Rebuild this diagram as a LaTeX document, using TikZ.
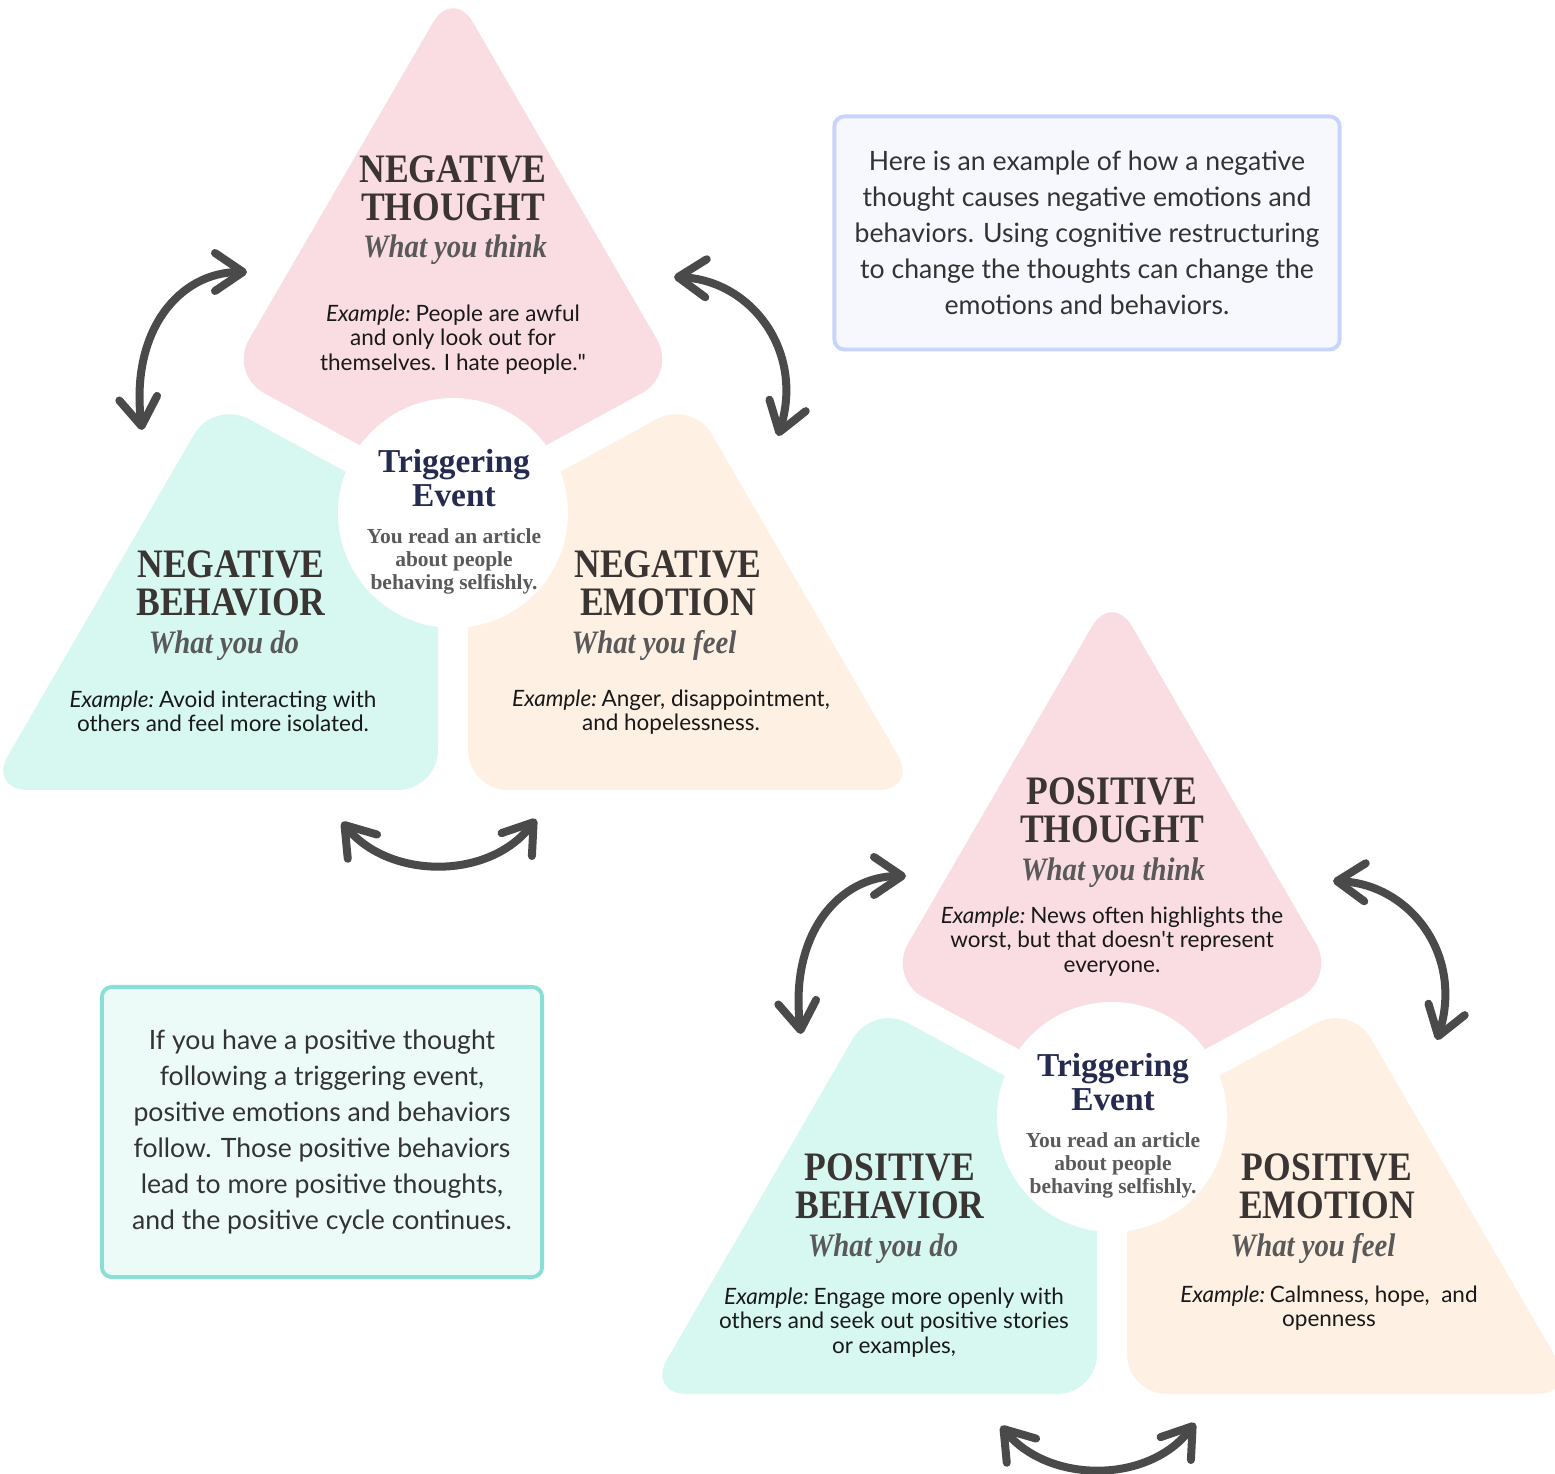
\documentclass[tikz,border=0pt]{standalone}
\usepackage{fontspec}
\setmainfont{Lato}
\newfontfamily\headfont[FakeStretch=0.88]{Liberation Serif}
\newfontfamily\trigfont{Liberation Serif}
\usetikzlibrary{arrows.meta}
\definecolor{pinkfill}{HTML}{FADDE3}
\definecolor{greenfill}{HTML}{D7F8F1}
\definecolor{peachfill}{HTML}{FEF0E3}
\definecolor{headgray}{HTML}{3A3533}
\definecolor{subgray}{HTML}{595959}
\definecolor{navy}{HTML}{252A4F}
\definecolor{descgray}{HTML}{5A5A5A}
\definecolor{arrowgray}{HTML}{4A4A4A}
\definecolor{notetext}{HTML}{333333}
\definecolor{bluefill}{HTML}{F6F8FE}
\definecolor{blueline}{HTML}{C9D4FB}
\definecolor{tealfill}{HTML}{ECFBF8}
\definecolor{tealline}{HTML}{89DED6}
\newcommand{\exlabel}{\textit{Example:}\kern-0.8pt}
\begin{document}
\begin{tikzpicture}[x=0.01cm,y=-0.01cm,
  titletext/.style={font=\headfont\bfseries\fontsize{11.5}{10.8}\selectfont,text=headgray,align=center,anchor=north,inner sep=0pt},
  subtext/.style={font=\headfont\bfseries\itshape\fontsize{9.3}{11}\selectfont,text=subgray,anchor=north,inner sep=0pt},
  extext/.style={font=\fontsize{6.4}{6.97}\selectfont,text=black!90,align=center,anchor=north,inner sep=0pt},
  trigtitle/.style={font=\trigfont\bfseries\fontsize{9.5}{9.7}\selectfont,text=navy,align=center,anchor=north,inner sep=0pt},
  trigtext/.style={font=\trigfont\bfseries\fontsize{6.1}{6.5}\selectfont,text=descgray,align=center,anchor=north,inner sep=0pt},
  notebox/.style={draw,line width=1.1pt,rounded corners=1mm,align=center,text=notetext,font=\fontsize{7.57}{10.24}\selectfont},
  cyclearrow/.style={draw=arrowgray,line width=0.8mm,line cap=round,>={Straight Barb[length=2.8mm,width=3.8mm,round]},<->}]
\useasboundingbox (0,0) rectangle (1555,1474);
% the two cycles: thought, behavior, emotion round the event
\foreach \d/\dx/\dy in {n/0/0,p/659/604}{
\begin{scope}[shift={(\dx,\dy)}]
\fill[pinkfill,rounded corners=4mm] (453,-12) -- (677,374) -- (453,496) -- (229,374) -- cycle;
\fill[greenfill,rounded corners=4mm] (214,400) -- (-12,790) -- (438,790) -- (438,522) -- cycle;
\fill[peachfill,rounded corners=4mm] (692,400) -- (918,790) -- (468,790) -- (468,522) -- cycle;
\fill[white] (453,513) circle[radius=115];
\coordinate (\d-lt) at (247,272);
\coordinate (\d-lb) at (142,430);
\coordinate (\d-rt) at (674,277);
\coordinate (\d-rb) at (778,436);
\coordinate (\d-bl) at (342,822);
\coordinate (\d-br) at (536,819);
\draw[cyclearrow] (\d-lb) .. controls (130,330) and (180,272) .. (\d-lt);
\draw[cyclearrow] (\d-rt) .. controls (750,280) and (805,350) .. (\d-rb);
\draw[cyclearrow] (\d-bl) .. controls (390,880) and (490,880) .. (\d-br);
\end{scope}
}
% negative cycle
\node[titletext] (nthought) at (453,155) {NEGATIVE\\THOUGHT};
\node[subtext] (nthink) at (455,234) {What you think};
\node[extext] (nthoughtex) at (453,304) {\exlabel{} People are awful\\and only look out for\\themselves. I hate people.\textquotedbl};
\node[titletext] (nbehavior) at (231,550) {NEGATIVE\\BEHAVIOR};
\node[subtext] (ndo) at (224,630) {What you do};
\node[extext] (nbehaviorex) at (223,690) {\exlabel{} Avoid interacting with\\others and feel more isolated.};
\node[titletext] (nemotion) at (668,550) {NEGATIVE\\EMOTION};
\node[subtext] (nfeel) at (654,630) {What you feel};
\node[extext] (nemotionex) at (671,689) {\exlabel{} Anger, disappointment,\\and hopelessness.};
\node[trigtitle] (nevent) at (454,449) {Triggering\\Event};
\node[trigtext] (neventtxt) at (454,528) {You read an article\\about people\\behaving selfishly.};
% positive cycle
\node[titletext] (pthought) at (1112,777) {POSITIVE\\THOUGHT};
\node[subtext] (pthink) at (1113,857) {What you think};
\node[extext] (pthoughtex) at (1112,906) {\exlabel{} News often highlights the\\worst, but that doesn\textquotesingle t represent\\everyone.};
\node[titletext] (pbehavior) at (890,1153) {POSITIVE\\BEHAVIOR};
\node[subtext] (pdo) at (883,1233) {What you do};
\node[extext] (pbehaviorex) at (894,1287) {\exlabel{} Engage more openly with\\others and seek out positive stories\\or examples,};
\node[titletext] (pemotion) at (1327,1153) {POSITIVE\\EMOTION};
\node[subtext] (pfeel) at (1313,1233) {What you feel};
\node[extext] (pemotionex) at (1329,1285) {\exlabel{} Calmness, hope,~ and\\openness};
\node[trigtitle] (pevent) at (1113,1053) {Triggering\\Event};
\node[trigtext] (peventtxt) at (1113,1132) {You read an article\\about people\\behaving selfishly.};
% notes
\node[notebox,draw=blueline,fill=bluefill,minimum width=5.05cm,minimum height=2.33cm] (negnote) at (1087,233) {Here is an example of how a negative\\thought causes negative emotions and\\behaviors. Using cognitive restructuring\\to change the thoughts can change the\\emotions and behaviors.};
\node[notebox,draw=tealline,fill=tealfill,minimum width=4.4cm,minimum height=2.9cm] (posnote) at (322,1132) {If you have a positive thought\\following a triggering event,\\positive emotions and behaviors\\follow. Those positive behaviors\\lead to more positive thoughts,\\and the positive cycle continues.};
\end{tikzpicture}
\end{document}
